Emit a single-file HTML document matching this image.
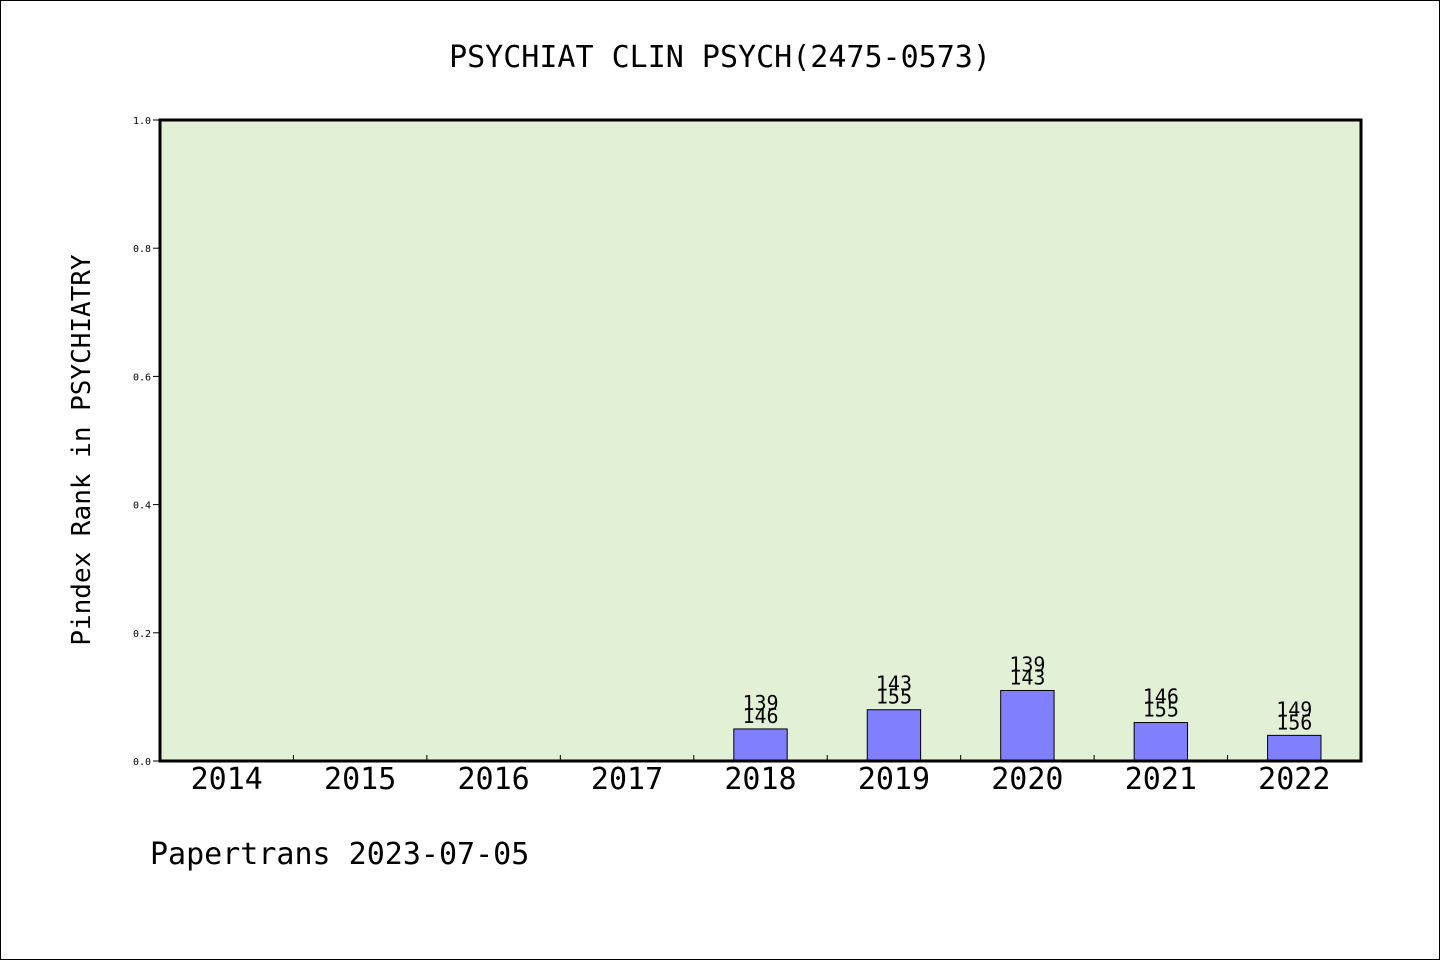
<!DOCTYPE html>
<html><head><meta charset="utf-8"><style>
html,body{margin:0;padding:0;background:#fff}
svg{display:block}
text{font-family:"WenQuanYi Zen Hei","DejaVu Sans Mono","Liberation Mono",monospace;fill:#000}
</style></head><body>
<svg id="chart" width="1440" height="960" xmlns="http://www.w3.org/2000/svg">
<rect x="0.5" y="0.5" width="1439" height="959" fill="#fff" stroke="#000"/>
<text x="720" y="67" font-size="30" text-anchor="middle">PSYCHIAT CLIN PSYCH(2475-0573)</text>
<rect x="160" y="120" width="1201" height="641" fill="#e2f0d6"/>
<g id="bars"></g>
<g id="axes"></g>
<rect x="160" y="120" width="1201" height="641" fill="none" stroke="#000" stroke-width="3"/>
<text transform="translate(90,450) rotate(-90)" font-size="26" text-anchor="middle">Pindex Rank in PSYCHIATRY</text>
<text x="150" y="864" font-size="30">Papertrans 2023-07-05</text>
</svg>
<script>
const categories = ["2014","2015","2016","2017","2018","2019","2020","2021","2022"];
const values = [null,null,null,null,0.05,0.08,0.11,0.06,0.04];
const labelTop = ["","","","","139","143","139","146","149"];
const labelBottom = ["","","","","146","155","143","155","156"];
const yTicks = [0,0.2,0.4,0.6,0.8,1.0];
const yTickLabels = ["0.0","0.2","0.4","0.6","0.8","1.0"];

const NS="http://www.w3.org/2000/svg";
const L=160,R=1361,T=120,B=761;
const band=(R-L)/categories.length;
const x=i=>L+band*(i+0.5);
const y=v=>B-(B-T)*v;
const bars=document.getElementById('bars'), axes=document.getElementById('axes');
function mk(tag,attrs,parent){const e=document.createElementNS(NS,tag);for(const k in attrs)e.setAttribute(k,attrs[k]);parent.appendChild(e);return e;}

categories.forEach((c,i)=>{
  const t=mk('text',{x:x(i),y:B+28,'font-size':30,'text-anchor':'middle'},axes);
  t.textContent=c;
  
  
  if(i>0){
    const tk=mk('line',{x1:L+band*i,x2:L+band*i,y1:B,y2:B-6,stroke:'#000','stroke-width':1},axes);
    
    
  }
  const v=values[i];
  if(v!=null){
    const bw=band*0.4;
    const r=mk('rect',{x:x(i)-bw/2,y:y(v),width:bw,height:B-y(v),fill:'#8080ff',stroke:'#000','stroke-width':1},bars);
    
    
    const t1=mk('text',{x:x(i),y:y(v)-19,'font-size':20,'text-anchor':'middle'},bars);
    t1.textContent=labelTop[i];
    
    
    const t2=mk('text',{x:x(i),y:y(v)-6,'font-size':20,'text-anchor':'middle'},bars);
    t2.textContent=labelBottom[i];
    
    
  }
});
yTicks.forEach((v,i)=>{
  const tk=mk('line',{x1:L-7,x2:L,y1:y(v),y2:y(v),stroke:'#000','stroke-width':1},axes);
  
  
  const t=mk('text',{x:L-9,y:y(v)+4,'font-size':10,'text-anchor':'end'},axes);
  t.textContent=yTickLabels[i];
  
  
});
</script>
</body></html>
